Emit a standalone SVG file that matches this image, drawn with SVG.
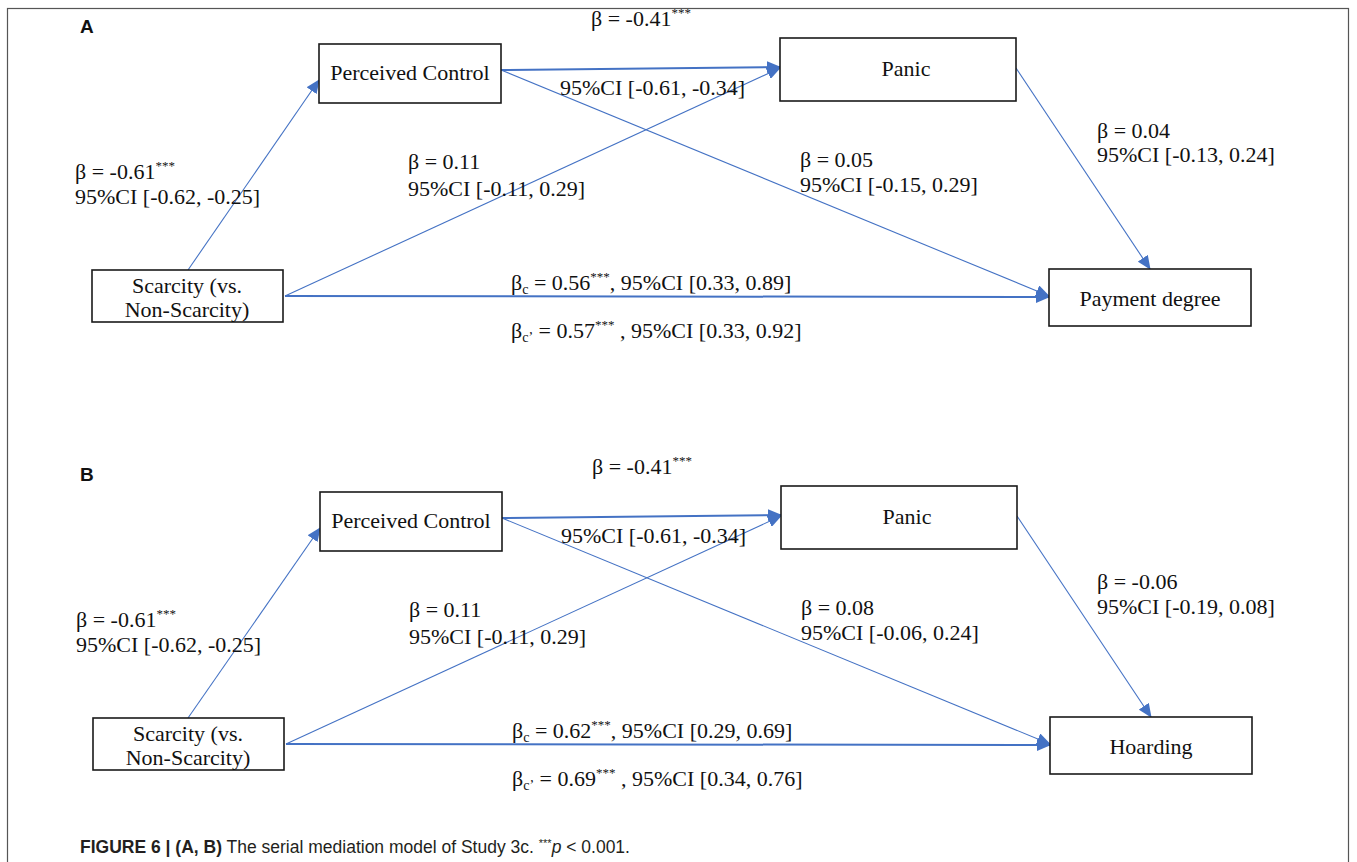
<svg xmlns="http://www.w3.org/2000/svg" width="1357" height="862" viewBox="0 0 1357 862">
<style>
.box{fill:#fff;stroke:#1a1a1a;stroke-width:1.6}
.t{font-family:"Liberation Serif","Times New Roman",serif;font-size:22px;fill:#111}
.c{text-anchor:middle}
.sup{font-size:13px}
.sub{font-size:14px}
.lbl{font-family:"Liberation Sans",Arial,sans-serif;font-weight:bold;font-size:19px;fill:#111}
.cap{font-family:"Liberation Sans",Arial,sans-serif;font-size:17.5px;fill:#231f20}
.ln{stroke:#4472c4;stroke-width:1.1;fill:none}
.thk{stroke-width:2}
</style>
<defs>
<marker id="ah" markerUnits="userSpaceOnUse" markerWidth="14" markerHeight="12" refX="13" refY="6" orient="auto">
<path d="M0,0 L14,6 L0,12 Z" fill="#4472c4"/>
</marker>
</defs>
<rect x="7.5" y="8.5" width="1341" height="870" fill="#fff" stroke="#555" stroke-width="1.2"/>

<!-- Panel A -->
<text class="lbl" x="80" y="33">A</text>
<g id="connectors-A">
<line class="ln" x1="188" y1="270" x2="319" y2="80" marker-end="url(#ah)"/>
<line class="ln thk" x1="501" y1="70" x2="780" y2="67" marker-end="url(#ah)"/>
<line class="ln" x1="285" y1="296" x2="780" y2="68" marker-end="url(#ah)"/>
<line class="ln" x1="501" y1="70" x2="1049" y2="296" marker-end="url(#ah)"/>
<line class="ln thk" x1="285" y1="296" x2="1049" y2="297" marker-end="url(#ah)"/>
<line class="ln" x1="1016" y1="68" x2="1150" y2="269" marker-end="url(#ah)"/>
</g>
<g id="A-perceived-control"><rect class="box" x="319" y="44" width="182" height="59"/><text class="t c" x="410" y="80">Perceived Control</text></g>
<g id="A-panic"><rect class="box" x="780" y="38" width="236" height="63"/><text class="t c" x="906" y="76">Panic</text></g>
<g id="A-scarcity"><rect class="box" x="92" y="270" width="191" height="52"/><text class="t c" x="187" y="293">Scarcity (vs.</text><text class="t c" x="187" y="317">Non-Scarcity)</text></g>
<g id="A-payment"><rect class="box" x="1049" y="269" width="202" height="57"/><text class="t c" x="1150" y="306">Payment degree</text></g>
<g id="A-labels">
<text class="t" x="591" y="26">β = -0.41<tspan class="sup" dy="-9">***</tspan></text>
<text class="t" x="560" y="95">95%CI [-0.61, -0.34]</text>
<text class="t" x="75" y="179">β = -0.61<tspan class="sup" dy="-9">***</tspan></text>
<text class="t" x="75" y="204">95%CI [-0.62, -0.25]</text>
<text class="t" x="408" y="169">β = 0.11</text>
<text class="t" x="408" y="196">95%CI [-0.11, 0.29]</text>
<text class="t" x="800" y="167">β = 0.05</text>
<text class="t" x="800" y="192">95%CI [-0.15, 0.29]</text>
<text class="t" x="1097" y="138">β = 0.04</text>
<text class="t" x="1097" y="162">95%CI [-0.13, 0.24]</text>
<text class="t" x="511" y="290">β<tspan class="sub" dy="4">c</tspan><tspan dy="-4"> = 0.56</tspan><tspan class="sup" dy="-9">***</tspan><tspan dy="9">, 95%CI [0.33, 0.89]</tspan></text>
<text class="t" x="511" y="338">β<tspan class="sub" dy="4">c’</tspan><tspan dy="-4"> = 0.57</tspan><tspan class="sup" dy="-9">***</tspan><tspan dy="9"> , 95%CI [0.33, 0.92]</tspan></text>
</g>

<!-- Panel B -->
<text class="lbl" x="80" y="481">B</text>
<g id="connectors-B">
<line class="ln" x1="188" y1="718" x2="320" y2="528" marker-end="url(#ah)"/>
<line class="ln thk" x1="502" y1="518" x2="781" y2="515" marker-end="url(#ah)"/>
<line class="ln" x1="286" y1="744" x2="781" y2="516" marker-end="url(#ah)"/>
<line class="ln" x1="502" y1="518" x2="1050" y2="744" marker-end="url(#ah)"/>
<line class="ln thk" x1="286" y1="744" x2="1050" y2="745" marker-end="url(#ah)"/>
<line class="ln" x1="1017" y1="516" x2="1151" y2="717" marker-end="url(#ah)"/>
</g>
<g id="B-perceived-control"><rect class="box" x="320" y="492" width="182" height="59"/><text class="t c" x="411" y="528">Perceived Control</text></g>
<g id="B-panic"><rect class="box" x="781" y="486" width="236" height="63"/><text class="t c" x="907" y="524">Panic</text></g>
<g id="B-scarcity"><rect class="box" x="93" y="718" width="191" height="52"/><text class="t c" x="188" y="741">Scarcity (vs.</text><text class="t c" x="188" y="765">Non-Scarcity)</text></g>
<g id="B-hoarding"><rect class="box" x="1050" y="717" width="202" height="57"/><text class="t c" x="1151" y="754">Hoarding</text></g>
<g id="B-labels">
<text class="t" x="592" y="474">β = -0.41<tspan class="sup" dy="-9">***</tspan></text>
<text class="t" x="561" y="543">95%CI [-0.61, -0.34]</text>
<text class="t" x="76" y="627">β = -0.61<tspan class="sup" dy="-9">***</tspan></text>
<text class="t" x="76" y="652">95%CI [-0.62, -0.25]</text>
<text class="t" x="409" y="617">β = 0.11</text>
<text class="t" x="409" y="644">95%CI [-0.11, 0.29]</text>
<text class="t" x="801" y="615">β = 0.08</text>
<text class="t" x="801" y="640">95%CI [-0.06, 0.24]</text>
<text class="t" x="1097" y="589">β = -0.06</text>
<text class="t" x="1097" y="614">95%CI [-0.19, 0.08]</text>
<text class="t" x="512" y="738">β<tspan class="sub" dy="4">c</tspan><tspan dy="-4"> = 0.62</tspan><tspan class="sup" dy="-9">***</tspan><tspan dy="9">, 95%CI [0.29, 0.69]</tspan></text>
<text class="t" x="512" y="786">β<tspan class="sub" dy="4">c’</tspan><tspan dy="-4"> = 0.69</tspan><tspan class="sup" dy="-9">***</tspan><tspan dy="9"> , 95%CI [0.34, 0.76]</tspan></text>
</g>

<text class="cap" x="80" y="853"><tspan font-weight="bold">FIGURE 6 | (A, B)</tspan> The serial mediation model of Study 3c. <tspan font-size="11" dy="-6">***</tspan><tspan font-style="italic" dy="6">p</tspan> &lt; 0.001.</text>
</svg>
